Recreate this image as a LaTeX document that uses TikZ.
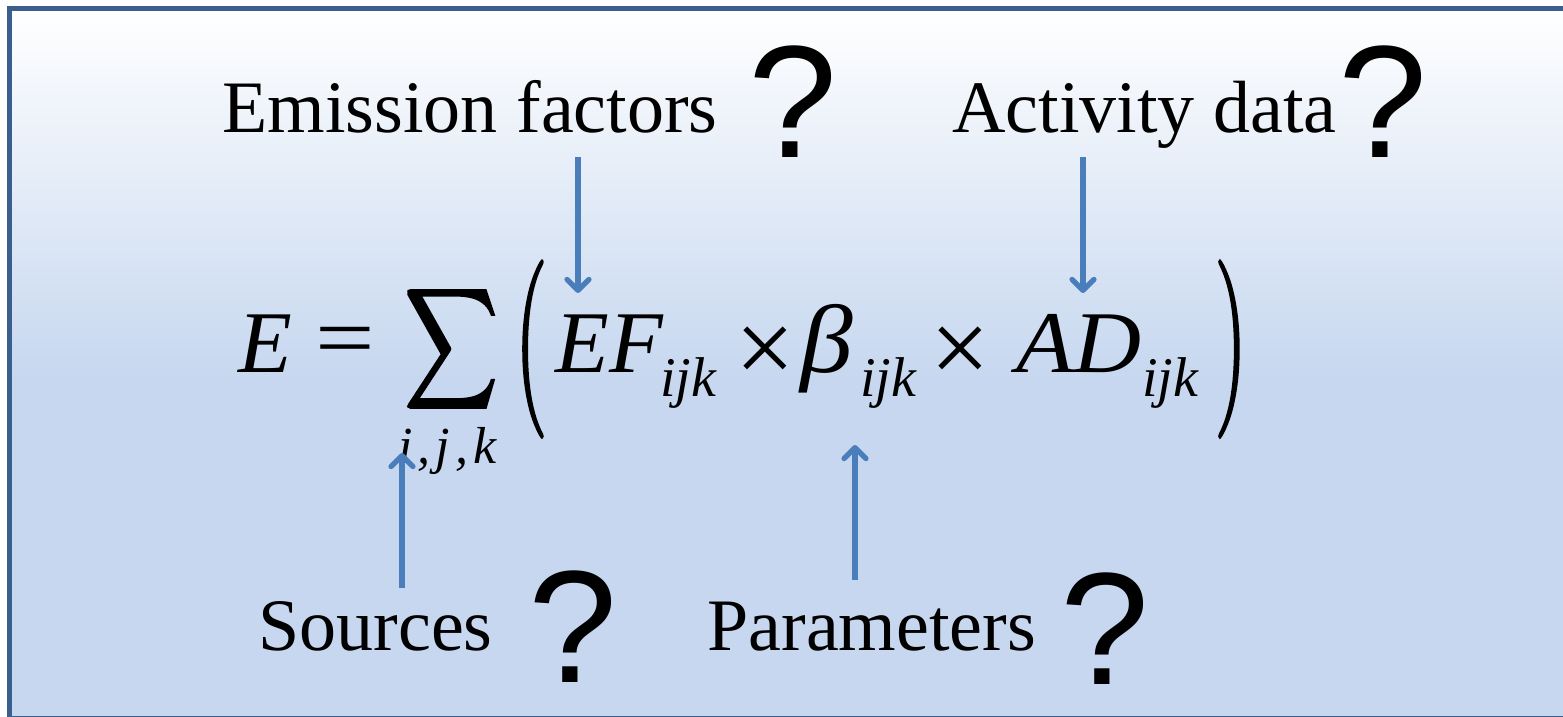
\documentclass[tikz,border=0pt]{standalone}
\usepackage{fontspec}
\setmainfont{Liberation Serif}
\newfontfamily\askfont{Liberation Sans}
\usepackage{graphicx}
\usetikzlibrary{arrows.meta}
\definecolor{bgblue}{HTML}{C6D7EF}
\definecolor{framecol}{HTML}{3A5F8E}
\definecolor{arrowcol}{HTML}{4A7EBB}
% heavier glyph outline for the big symbols
\newcommand{\heavy}[2]{\special{pdf:literal direct 2 Tr #1 w}#2\special{pdf:literal direct 0 Tr}}
\tikzset{>={Straight Barb[length=5.5pt,width=11pt,round]}}
\tikzset{
    factor/.style = {inner sep=0pt, anchor=base west, font=\fontsize{37}{40}\selectfont},
    query/.style = {inner sep=0pt, anchor=south, font=\askfont\fontsize{80}{84}\selectfont},
    symb/.style = {inner sep=0pt, anchor=base west, font=\itshape\fontsize{44}{48}\selectfont},
    index/.style = {inner sep=0pt, anchor=base west, font=\itshape\fontsize{28}{30}\selectfont},
    oper/.style = {inner sep=0pt, anchor=center, font=\fontsize{44}{48}\selectfont},
    pointer/.style = {->, draw=arrowcol, line width=2.6pt}
}
\begin{document}
\begin{tikzpicture}[x=0.5pt, y=-0.5pt]
		\useasboundingbox (0,0) rectangle (1563,717);
		% background and frame
		\fill[white] (0,0) rectangle (1563,717);
		\shade[top color=white, bottom color=bgblue] (9.5,8.5) rectangle (1570,380);
		\fill[bgblue] (9.5,379) rectangle (1570,725);
		\draw[framecol, line width=2.6pt] (9.5,8.5) rectangle (1568,719);
		% the formula
		\node (E) [symb] at (238,372) {E};
		\node (eq) [oper] at (345,347) {\scalebox{1.2}[1]{=}};
		\node (sum) [oper] at (451,349) {\resizebox{46pt}{59pt}{\heavy{0.4}{$\displaystyle\sum$}}};
		\node (sumsub) [index, font=\itshape\fontsize{26}{28}\selectfont] at (398,463) {i\kern2.5pt,\kern2.5pt j\kern2.5pt,\kern2.5pt k};
		\node (lpar) [oper] at (531,349) {\resizebox{16pt}{66pt}{\heavy{0.5}{$\Bigg($}}};
		\node (EF) [symb] at (555,372) {EF};
		\node (EFsub) [index] at (660,396) {ijk};
		\node (times1) [oper] at (765,355) {\scalebox{1.2}{×}};
		\node (beta) [symb] at (800,372) {\scalebox{1.2}[1.1]{β}};
		\node (betasub) [index] at (860,396) {ijk};
		\node (times2) [oper] at (960,355) {\scalebox{1.2}{×}};
		\node (AD) [symb] at (1016,372) {\scalebox{1.07}[1]{AD}};
		\node (ADsub) [index] at (1142,396) {ijk};
		\node (rpar) [oper] at (1231,349) {\resizebox{16pt}{66pt}{\heavy{0.5}{$\Bigg)$}}};
		% what is asked
		\node (emis) [factor] at (222,133) {Emission factors};
		\node (emisq) [query] at (793,158) {?};
		\node (act) [factor] at (952,133) {Activity data};
		\node (actq) [query] at (1383,158) {?};
		\node (src) [factor] at (258,650) {Sources};
		\node (srcq) [query] at (573,683) {?};
		\node (par) [factor] at (707,650) {Parameters};
		\node (parq) [query] at (1105,685) {?};
		% arrows
		\coordinate (emis end) at (578,157);
		\coordinate (EF tip) at (578,293);
		\coordinate (act end) at (1083,157);
		\coordinate (AD tip) at (1083,293);
		\coordinate (src end) at (402,588);
		\coordinate (sum tip) at (402,453);
		\coordinate (par end) at (855,580);
		\coordinate (beta tip) at (855,445);
		\draw [pointer] (emis end) -- (EF tip);
		\draw [pointer] (act end) -- (AD tip);
		\draw [pointer] (src end) -- (sum tip);
		\draw [pointer] (par end) -- (beta tip);
	\end{tikzpicture}
\end{document}
